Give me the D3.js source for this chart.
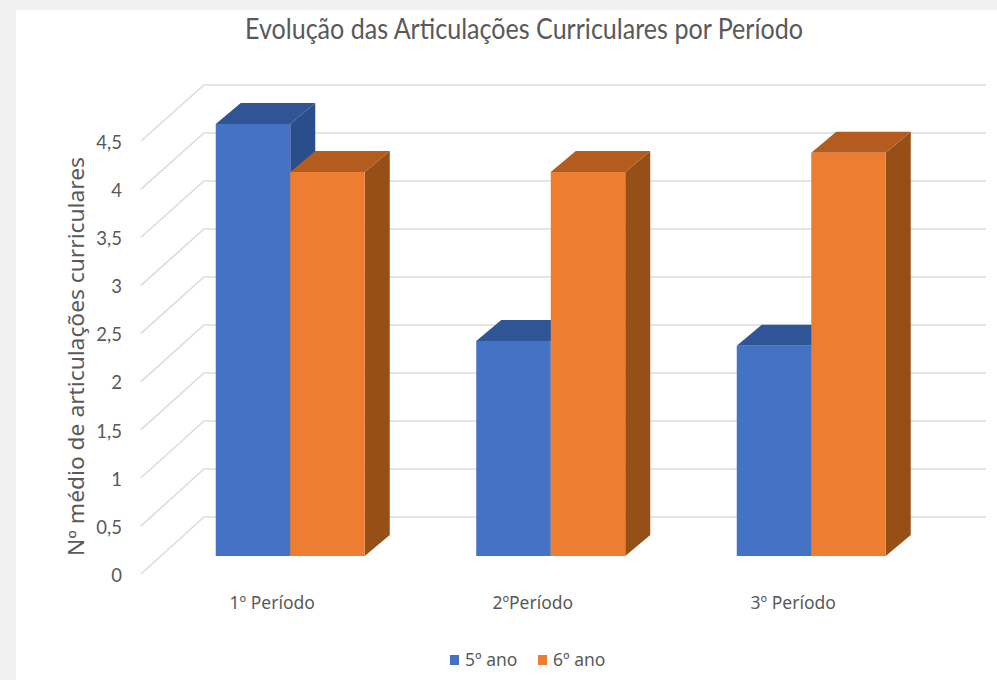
<!DOCTYPE html>
<head>
<meta charset="utf-8">
<style>
html, body { margin: 0; padding: 0; background: #f1f1f1; }
svg { display: block; }
svg text { font-family: "Noto Sans", sans-serif; fill: #595959; }
</style>
</head>
<body>
<script src="https://d3js.org/d3.v7.min.js"></script>
<script>
var categories = ["1º Período", "2ºPeríodo", "3º Período"];
var seriesNames = ["5º ano", "6º ano"];
var values5 = [4.5, 2.24, 2.19];
var values6 = [4, 4, 4.2];
var tickValues = [0, 0.5, 1, 1.5, 2, 2.5, 3, 3.5, 4, 4.5];

var faceColors = ["#4472c4", "#ed7d31"];
var topColors = ["#2f5597", "#b35c1e"];
var sideColors = ["#2a4d8c", "#974f18"];

var depthX = 25, depthY = 21;

var svg = d3.select("body").append("svg")
    .attr("width", 997)
    .attr("height", 680);

svg.append("rect")
    .attr("x", 16).attr("y", 10)
    .attr("width", 981).attr("height", 670)
    .attr("fill", "#ffffff");

// three scales for the same values: front labels, back wall, bar plane
var yLabel = d3.scaleLinear().domain([0, 4.5]).range([574, 141]);
var yWall = d3.scaleLinear().domain([0, 4.5]).range([517, 85]);
var yBar = d3.scaleLinear().domain([0, 4.5]).range([556, 124]);

var xGroup = d3.scaleBand().domain(categories).range([160, 941.5])
    .paddingInner(0.428).paddingOuter(0.214);
var xSeries = d3.scaleBand().domain(seriesNames).range([0, xGroup.bandwidth()]);

// gridlines with the slanted side wall
svg.append("g").selectAll("path")
    .data(tickValues)
  .enter().append("path")
    .attr("d", function (d) {
      return "M141," + yLabel(d) + "L204," + yWall(d) + "L986," + yWall(d);
    })
    .attr("fill", "none")
    .attr("stroke", "#dcdcdc")
    .attr("stroke-width", 1.6);

// y axis labels
var yAxis = d3.axisLeft(yLabel)
    .tickValues(tickValues)
    .tickSize(0)
    .tickPadding(18)
    .tickFormat(function (d) { return String(d).replace(".", ","); });

var yg = svg.append("g")
    .attr("transform", "translate(140,0)")
    .call(yAxis);
yg.select(".domain").remove();
yg.selectAll("text")
    .attr("dy", "0.4em")
    .style("font-family", "Lato")
    .style("font-size", "18.5px");

svg.append("text")
    .attr("transform", "translate(84,356.5) rotate(-90)")
    .attr("text-anchor", "middle")
    .attr("textLength", 399)
    .attr("lengthAdjust", "spacingAndGlyphs")
    .style("font-size", "21px")
    .text("Nº médio de articulações curriculares");

// bars
var rows = [];
categories.forEach(function (c, i) {
  rows.push({ cat: c, s: 0, v: values5[i] });
  rows.push({ cat: c, s: 1, v: values6[i] });
});

var bar = svg.append("g").selectAll("g")
    .data(rows)
  .enter().append("g")
    .attr("transform", function (d) {
      return "translate(" + (xGroup(d.cat) + xSeries(seriesNames[d.s])) + ",0)";
    });

bar.append("path")
    .attr("fill", function (d) { return sideColors[d.s]; })
    .attr("d", function (d) {
      var w = xSeries.bandwidth(), t = yBar(d.v), b = yBar(0);
      return "M" + w + "," + t + "l" + depthX + "," + (-depthY) +
        "L" + (w + depthX) + "," + (b - depthY) + "L" + w + "," + b + "Z";
    });

bar.append("path")
    .attr("fill", function (d) { return topColors[d.s]; })
    .attr("d", function (d) {
      var w = xSeries.bandwidth(), t = yBar(d.v);
      return "M0," + t + "l" + depthX + "," + (-depthY) + "h" + w + "l" + (-depthX) + "," + depthY + "Z";
    });

bar.append("rect")
    .attr("fill", function (d) { return faceColors[d.s]; })
    .attr("width", xSeries.bandwidth())
    .attr("y", function (d) { return yBar(d.v); })
    .attr("height", function (d) { return yBar(0) - yBar(d.v); });

// category labels
svg.append("g").selectAll("text")
    .data(categories)
  .enter().append("text")
    .attr("x", function (d) { return xGroup(d) + xGroup.bandwidth() / 2 - 18; })
    .attr("y", 609)
    .attr("text-anchor", "middle")
    .style("font-size", "17.5px")
    .text(function (d) { return d; });

// legend
var legendX = d3.scaleOrdinal().domain(seriesNames).range([450, 538]);
var legend = svg.append("g").selectAll("g")
    .data(seriesNames)
  .enter().append("g")
    .attr("transform", function (d) { return "translate(" + legendX(d) + ",0)"; });
legend.append("rect")
    .attr("y", 655).attr("width", 9).attr("height", 10)
    .attr("fill", function (d, i) { return faceColors[i]; });
legend.append("text")
    .attr("x", 15).attr("y", 666)
    .style("font-size", "17.5px")
    .text(function (d) { return d; });

svg.append("text")
    .attr("x", 524).attr("y", 39)
    .attr("text-anchor", "middle")
    .attr("textLength", 558)
    .attr("lengthAdjust", "spacingAndGlyphs")
    .style("font-family", "Lato")
    .style("font-size", "28px")
    .text("Evolução das Articulações Curriculares por Período");
</script>
</body>
</html>
